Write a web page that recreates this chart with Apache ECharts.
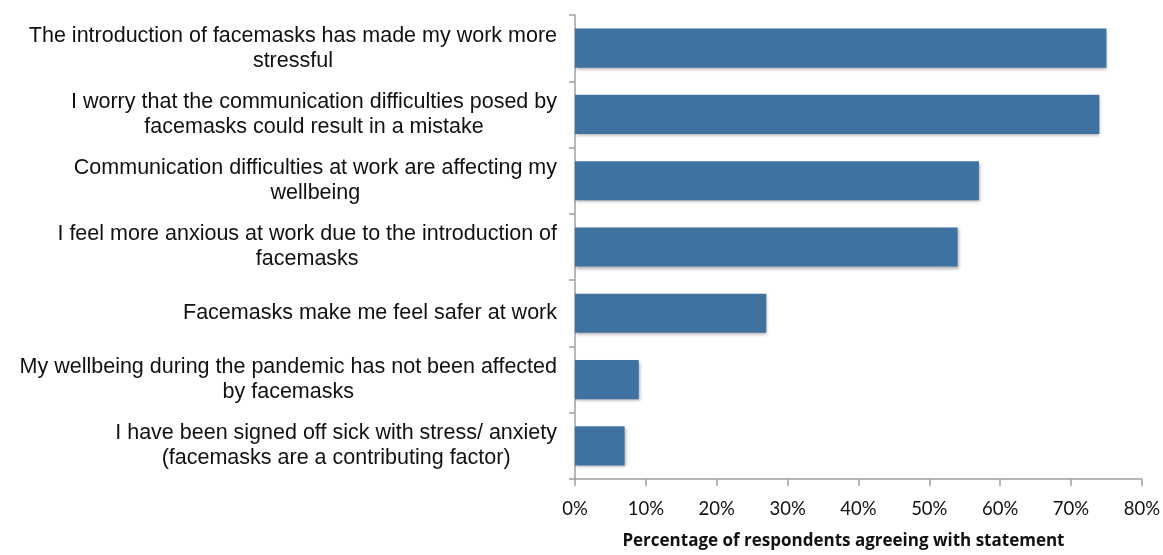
<!DOCTYPE html>
<html>
<head>
<meta charset="utf-8">
<script src="https://cdn.jsdelivr.net/npm/echarts@6/dist/echarts.min.js"></script>
<style>html,body{margin:0;padding:0;background:#fff;}#c{width:1163px;height:555px;}</style>
</head>
<body>
<div id="c"></div>
<script>
const categories = [
  "The introduction of facemasks has made my work more\nstressful",
  "I worry that the communication difficulties posed by\nfacemasks could result in a mistake",
  "Communication difficulties at work are affecting my\nwellbeing",
  "I feel more anxious at work due to the introduction of\nfacemasks",
  "Facemasks make me feel safer at work",
  "My wellbeing during the pandemic has not been affected\nby facemasks",
  "I have been signed off sick with stress/ anxiety\n(facemasks are a contributing factor)"
];
const values = [75, 74, 57, 54, 27, 9, 7];
const xTicks = [0, 10, 20, 30, 40, 50, 60, 70, 80];
const axisTitle = "Percentage of respondents agreeing with statement";

const labelFont = 'Liberation Sans, Arial, sans-serif';
const chart = echarts.init(document.getElementById('c'));
chart.setOption({
  animation: false,
  grid: {left: 575, right: 18, top: 15, bottom: 71, containLabel: false},
  xAxis: {
    type: 'value', min: xTicks[0], max: xTicks[xTicks.length - 1], interval: 10,
    axisLine: {show: true, lineStyle: {color: '#a0a0a0', width: 1.5}},
    axisTick: {show: true, length: 7, lineStyle: {color: '#a0a0a0', width: 1.5}},
    splitLine: {show: false},
    axisLabel: {formatter: v => v + '%', color: '#111', fontSize: 18.5, fontFamily: 'Lato, Open Sans, sans-serif', margin: 21},
    name: axisTitle, nameLocation: 'middle', nameGap: 54,
    nameTextStyle: {color: '#111', fontSize: 17, fontWeight: 'bold', fontFamily: 'Open Sans, Liberation Sans, sans-serif', padding: [0, 30, 0, 0]}
  },
  yAxis: {
    type: 'category', data: categories, inverse: true,
    axisLine: {show: true, lineStyle: {color: '#a0a0a0', width: 1.5}},
    axisTick: {show: true, length: 6, lineStyle: {color: '#a0a0a0', width: 1.5}},
    axisLabel: {
      align: 'right', margin: 18,
      formatter: v => v.split('\n').map(s => '{c|' + s + '}').join('\n'),
      rich: {c: {align: 'center', color: '#111', fontSize: 21.5, lineHeight: 25, fontFamily: labelFont}}
    }
  },
  series: [{
    type: 'bar', data: values, barCategoryGap: '41%',
    itemStyle: {color: '#3f72a1', shadowColor: 'rgba(0,0,0,0.3)', shadowBlur: 3, shadowOffsetX: 1, shadowOffsetY: 2}
  }]
});
</script>
</body>
</html>
